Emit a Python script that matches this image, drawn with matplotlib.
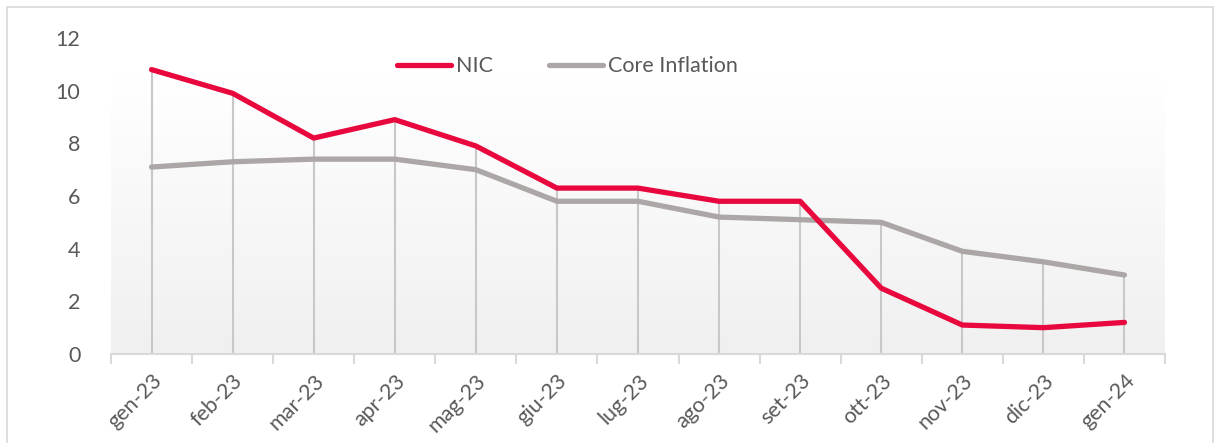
import matplotlib
matplotlib.use("Agg")
import matplotlib.pyplot as plt
import numpy as np
from matplotlib.patches import Rectangle

months = ['gen-23', 'feb-23', 'mar-23', 'apr-23', 'mag-23', 'giu-23', 'lug-23',
          'ago-23', 'set-23', 'ott-23', 'nov-23', 'dic-23', 'gen-24']
nic = [10.8, 9.9, 8.2, 8.9, 7.9, 6.3, 6.3, 5.8, 5.8, 2.5, 1.1, 1.0, 1.2]
core = [7.1, 7.3, 7.4, 7.4, 7.0, 5.8, 5.8, 5.2, 5.1, 5.0, 3.9, 3.5, 3.0]

plt.rcParams['font.family'] = ['Lato', 'DejaVu Sans']
txt = '#595959'

fig = plt.figure(figsize=(12.19, 4.43), dpi=100)
fig.patches.append(Rectangle((7/1219, -0.05), 1206/1219, 1.05 - 7/443,
                             transform=fig.transFigure, fill=False,
                             edgecolor='#d9d9d9', linewidth=1.2))

ax = fig.add_axes([111/1219, 89/443, 1054/1219, 316/443])
x = np.arange(len(months))

# gradient fill of the plot area
grad = np.linspace(0, 1, 100).reshape(-1, 1)
ax.imshow(grad, extent=[-0.5, 12.5, 0, 10.5], aspect='auto', origin='lower',
          cmap=matplotlib.colors.LinearSegmentedColormap.from_list('g', ['#f0f0f0', '#ffffff']),
          zorder=0)

# drop lines
top = np.maximum(nic, core)
ax.vlines(x, 0, top, color='#c8c8c8', linewidth=1.5, zorder=1)

ax.plot(x, nic, color='#e8083e', linewidth=3.8, solid_capstyle='round',
        solid_joinstyle='round', label='NIC', zorder=3)
ax.plot(x, core, color='#aca6a6', linewidth=3.8, solid_capstyle='round',
        solid_joinstyle='round', label='Core Inflation', zorder=2)

ax.set_xlim(-0.5, 12.5)
ax.set_ylim(0, 12)
ax.set_yticks(range(0, 13, 2))
ax.set_xticks(x)
ax.set_xticklabels(months, rotation=45, ha='right', rotation_mode='anchor')
ax.set_xticks(np.arange(-0.5, 13, 1), minor=True)
ax.tick_params(axis='x', which='major', length=0, pad=12, labelsize=15.5, labelcolor=txt)
ax.tick_params(axis='x', which='minor', length=7, width=1.5, color='#d9d9d9')
ax.tick_params(axis='y', length=0, pad=22, labelsize=15.5, labelcolor=txt)

for s in ['top', 'right', 'left']:
    ax.spines[s].set_visible(False)
ax.spines['bottom'].set_color('#d9d9d9')
ax.spines['bottom'].set_linewidth(1.5)
ax.patch.set_visible(False)

leg = ax.legend(loc='center', bbox_to_anchor=(0.433, 0.91), ncol=2, frameon=False,
                fontsize=15.5, handlelength=2.5, handletextpad=0.25, columnspacing=2.6)
for t in leg.get_texts():
    t.set_color(txt)

fig.savefig('out.png', dpi=100)
